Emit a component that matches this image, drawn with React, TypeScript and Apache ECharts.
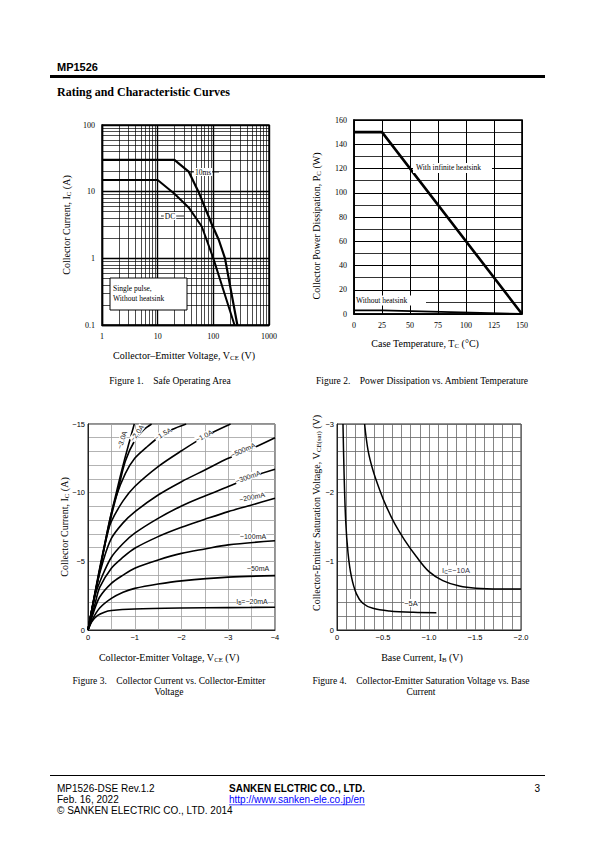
import React, { useEffect, useRef } from 'react';
import * as echarts from 'echarts';

const SERIF = "'Liberation Serif', 'Times New Roman', serif";
const SANS = "'Liberation Sans', Arial, sans-serif";

// ---------- Figure 1: Safe Operating Area (log-log) ----------
const SOA_DECADES = [1, 10, 100];
const SOA_MINOR_STEPS = [2, 3, 4, 5, 6, 7, 8, 9];
const SOA_MINOR_X = SOA_DECADES.flatMap((d) => SOA_MINOR_STEPS.map((k) => k * d));
const SOA_MINOR_Y = [0.1, 1, 10].flatMap((d) => SOA_MINOR_STEPS.map((k) => k * d));
const SOA_10MS: [number, number][] = [[1, 30], [20, 30], [36, 20], [54, 10], [93, 3.3], [125, 1.9], [162, 1], [270, 0.1]];
const SOA_DC: [number, number][] = [[1, 15], [10, 15], [20, 9.3], [36, 5.8], [62, 3.0], [100, 1], [240, 0.1]];

// ---------- Figure 2: Power dissipation vs temperature ----------
const PD_INFINITE: [number, number][] = [[0, 150], [25, 150], [150, 0]];
const PD_NO_SINK: [number, number][] = [[0, 3], [25, 3], [150, 0]];

// ---------- Figure 3: Ic vs Vce (signed values) ----------
const IB_20mA: [number, number][] = [[0, 0], [-0.08, -0.6], [-0.2, -1.05], [-0.35, -1.3], [-0.5, -1.42], [-1, -1.53], [-2, -1.6], [-3, -1.63], [-4, -1.66]];
const IB_50mA: [number, number][] = [[0, 0], [-0.1, -0.8], [-0.25, -1.6], [-0.5, -2.3], [-0.75, -2.75], [-1, -3.03], [-1.5, -3.35], [-2, -3.58], [-3, -3.85], [-4, -3.96]];
const IB_100mA: [number, number][] = [[0, 0], [-0.12, -1.3], [-0.25, -2.4], [-0.5, -3.4], [-0.75, -4.0], [-1, -4.5], [-1.5, -5.1], [-2, -5.58], [-2.5, -5.9], [-3, -6.2], [-4, -6.5]];
const IB_200mA: [number, number][] = [[0, 0], [-0.15, -1.9], [-0.25, -3.1], [-0.5, -4.5], [-0.75, -5.3], [-1, -5.95], [-1.5, -6.8], [-2, -7.48], [-2.5, -8.06], [-3, -8.62], [-3.5, -9.1], [-4, -9.6]];
const IB_300mA: [number, number][] = [[0, 0], [-0.15, -2.5], [-0.3, -3.9], [-0.5, -5.3], [-0.75, -6.3], [-1, -7.05], [-1.5, -8.13], [-2, -9.03], [-2.5, -9.76], [-3, -10.45], [-3.5, -11.15], [-4, -11.7]];
const IB_500mA: [number, number][] = [[0, 0], [-0.17, -3.0], [-0.33, -5.1], [-0.5, -6.67], [-0.75, -7.8], [-1, -8.6], [-1.5, -9.83], [-2, -10.8], [-2.5, -11.65], [-3, -12.5], [-3.5, -13.2], [-4, -14.0]];
const IB_1000mA: [number, number][] = [[0, 0], [-0.22, -3.8], [-0.4, -6.8], [-0.5, -7.9], [-0.75, -9.4], [-1, -10.45], [-1.5, -11.9], [-2, -13.05], [-2.5, -14.1], [-3.05, -15]];
const IB_1500mA: [number, number][] = [[0, 0], [-0.25, -4.3], [-0.45, -7.8], [-0.6, -9.7], [-0.8, -11.4], [-1, -12.5], [-1.25, -13.3], [-1.5, -14.0], [-1.8, -14.6], [-2.1, -15]];
const IB_2000mA: [number, number][] = [[0, 0], [-0.25, -4.4], [-0.5, -8.3], [-0.65, -10.3], [-0.8, -12.3], [-1.0, -13.8], [-1.2, -14.6], [-1.36, -15]];
const IB_3000mA: [number, number][] = [[0, 0], [-0.25, -4.5], [-0.5, -8.5], [-0.62, -10.2], [-0.72, -11.6], [-0.86, -13.4], [-0.99, -15]];
const FIG3_CURVES = [IB_20mA, IB_50mA, IB_100mA, IB_200mA, IB_300mA, IB_500mA, IB_1000mA, IB_1500mA, IB_2000mA, IB_3000mA];

// ---------- Figure 4: Vce(sat) vs Ib (signed values) ----------
const IC_10A: [number, number][] = [[-0.3, -3.0], [-0.337, -2.62], [-0.39, -2.33], [-0.464, -2.04], [-0.536, -1.8], [-0.627, -1.55], [-0.735, -1.31], [-0.862, -1.07], [-1.0, -0.85], [-1.15, -0.72], [-1.33, -0.64], [-1.51, -0.607], [-1.77, -0.597], [-2.0, -0.597]];
const IC_5A: [number, number][] = [[-0.065, -3.0], [-0.076, -2.33], [-0.094, -1.6], [-0.12, -1.12], [-0.156, -0.78], [-0.21, -0.53], [-0.28, -0.39], [-0.39, -0.316], [-0.57, -0.277], [-0.83, -0.257], [-1.08, -0.252]];

const minus = (v: number, digits = 0) => (Math.abs(v) < 1e-9 ? '0' : '\u2212' + Math.abs(v).toFixed(digits));

function txt(text: string, x: number, y: number, o: any = {}) {
  const align = o.align || 'left';
  const va = o.va || 'middle';
  return {
    type: 'text', x, y, rotation: o.rot || 0, z: 100, silent: true,
    style: {
      text, fill: o.color || '#000', fontSize: o.size || 9.5, fontFamily: o.family || SERIF,
      fontWeight: o.weight || 'normal', align, verticalAlign: va, textAlign: align, textVerticalAlign: va,
      backgroundColor: o.bg, padding: o.pad, rich: o.rich,
    },
  };
}
function subRich(size: number, family: string, color = '#000') {
  return {
    n: { fontSize: size, fontFamily: family, lineHeight: size + 2, fill: color, color },
    s: { fontSize: size * 0.68, fontFamily: family, lineHeight: size * 0.68, verticalAlign: 'bottom', fill: color, color },
  };
}
function subText(a: string, s: string, b: string) {
  return `{n|${a}}{s|${s}}{n|${b}}`;
}

export default function App() {
  const ref = useRef<HTMLDivElement>(null);
  useEffect(() => {
    const chart = echarts.init(ref.current!, null, { renderer: 'svg', width: 595, height: 842 });

    const tickLabel = (family: string, size: number, margin: number, formatter: any) => ({
      show: true, color: '#000', fontFamily: family, fontSize: size, margin, formatter, interval: 0, hideOverlap: false,
    });

    const option: any = {
      animation: false,
      backgroundColor: '#fff',
      grid: [
        { left: 102, top: 125, width: 167, height: 200, show: true, borderColor: '#000', borderWidth: 1.4 },
        { left: 354, top: 120, width: 168, height: 194, show: true, borderColor: '#000', borderWidth: 1.6 },
        { left: 88, top: 424, width: 187, height: 206, show: true, borderColor: '#222', borderWidth: 1 },
        { left: 337, top: 424, width: 184, height: 206, show: true, borderColor: '#222', borderWidth: 1 },
      ],
      xAxis: [
        {
          gridIndex: 0, type: 'log', logBase: 10, min: 1, max: 1000,
          axisLine: { show: true, onZero: false, lineStyle: { color: '#000', width: 1.4 } }, axisTick: { show: false },
          splitLine: { show: true, lineStyle: { color: '#000', width: 1.4 } },
          axisLabel: tickLabel(SERIF, 8, 7, (v: number) => String(Math.round(v))),
        },
        {
          gridIndex: 1, type: 'value', min: 0, max: 150, interval: 25,
          axisLine: { show: true, onZero: false, lineStyle: { color: '#000', width: 1.6 } }, axisTick: { show: false },
          splitLine: { show: true, lineStyle: { color: '#000', width: 1 } },
          axisLabel: tickLabel(SERIF, 8, 7, (v: number) => String(v)),
        },
        {
          gridIndex: 2, type: 'value', min: -4, max: 0, interval: 0.5, inverse: true,
          axisLine: { show: true, onZero: false, lineStyle: { color: '#222', width: 1 } }, axisTick: { show: false },
          splitLine: { show: true, lineStyle: { color: '#a0a0a0', width: 0.8 } },
          axisLabel: tickLabel(SANS, 7.5, 3, (v: number) => (Math.abs(v - Math.round(v)) < 1e-6 ? minus(v) : '')),
        },
        {
          gridIndex: 3, type: 'value', min: -2, max: 0, interval: 0.1, inverse: true,
          axisLine: { show: true, onZero: false, lineStyle: { color: '#222', width: 1 } }, axisTick: { show: false },
          splitLine: { show: true, lineStyle: { color: '#666', width: 0.8 } },
          axisLabel: tickLabel(SANS, 7.5, 3, (v: number) => {
            const k = Math.round(v * 10);
            if (k % 5 !== 0) return '';
            return k === 0 ? '0' : minus(k / 10, 1);
          }),
        },
      ],
      yAxis: [
        {
          gridIndex: 0, type: 'log', logBase: 10, min: 0.1, max: 100,
          axisLine: { show: true, onZero: false, lineStyle: { color: '#000', width: 1.4 } }, axisTick: { show: false },
          splitLine: { show: true, lineStyle: { color: '#000', width: 1.4 } },
          axisLabel: tickLabel(SERIF, 8, 7, (v: number) => (v < 0.5 ? '0.1' : String(Math.round(v)))),
        },
        {
          gridIndex: 1, type: 'value', min: 0, max: 160, interval: 20,
          axisLine: { show: true, onZero: false, lineStyle: { color: '#000', width: 1.6 } }, axisTick: { show: false },
          minorTick: { show: false, splitNumber: 2 },
          minorSplitLine: { show: true, lineStyle: { color: '#000', width: 0.8 } },
          splitLine: { show: true, lineStyle: { color: '#000', width: 1 } },
          axisLabel: tickLabel(SERIF, 8, 7, (v: number) => String(v)),
        },
        {
          gridIndex: 2, type: 'value', min: -15, max: 0, interval: 1, inverse: true,
          axisLine: { show: true, onZero: false, lineStyle: { color: '#222', width: 1 } }, axisTick: { show: false },
          splitLine: { show: true, lineStyle: { color: '#a0a0a0', width: 0.8 } },
          axisLabel: tickLabel(SANS, 7.5, 3, (v: number) => (Math.round(v) % 5 === 0 ? minus(v) : '')),
        },
        {
          gridIndex: 3, type: 'value', min: -3, max: 0, interval: 0.2, inverse: true,
          axisLine: { show: true, onZero: false, lineStyle: { color: '#222', width: 1 } }, axisTick: { show: false },
          splitLine: { show: true, lineStyle: { color: '#666', width: 0.8 } },
          axisLabel: tickLabel(SANS, 7.5, 3, (v: number) => {
            const k = Math.round(v * 10);
            return k % 10 === 0 ? minus(k / 10) : '';
          }),
        },
      ],
      series: [
        {
          type: 'line', xAxisIndex: 0, yAxisIndex: 0, data: [[1, 100]], showSymbol: false, z: 1, silent: true,
          lineStyle: { width: 0 },
          markLine: {
            silent: true, symbol: ['none', 'none'], label: { show: false }, animation: false,
            lineStyle: { color: '#000', width: 0.7, type: 'solid' },
            data: [...SOA_MINOR_X.map((v) => ({ xAxis: v })), ...SOA_MINOR_Y.map((v) => ({ yAxis: v }))],
          },
        },
        { type: 'line', xAxisIndex: 0, yAxisIndex: 0, data: SOA_10MS, showSymbol: false, z: 5, lineStyle: { color: '#000', width: 2.2 } },
        { type: 'line', xAxisIndex: 0, yAxisIndex: 0, data: SOA_DC, showSymbol: false, z: 5, lineStyle: { color: '#000', width: 2 } },
        { type: 'line', xAxisIndex: 1, yAxisIndex: 1, data: PD_INFINITE, showSymbol: false, z: 5, lineStyle: { color: '#000', width: 2.6 } },
        { type: 'line', xAxisIndex: 1, yAxisIndex: 1, data: PD_NO_SINK, showSymbol: false, z: 5, lineStyle: { color: '#000', width: 1.8 } },
        ...FIG3_CURVES.map((d) => ({
          type: 'line', xAxisIndex: 2, yAxisIndex: 2, data: d, showSymbol: false, z: 5,
          smooth: 0.3, lineStyle: { color: '#000', width: 1.6 },
        })),
        ...[IC_10A, IC_5A].map((d) => ({
          type: 'line', xAxisIndex: 3, yAxisIndex: 3, data: d, showSymbol: false, z: 5,
          smooth: 0.35, lineStyle: { color: '#000', width: 1.5 },
        })),
      ],
      graphic: [
        // header
        txt('MP1526', 57, 67, { family: SANS, weight: 'bold', size: 11 }),
        { type: 'rect', z: 100, shape: { x: 50, y: 75, width: 495, height: 3 }, style: { fill: '#000' } },
        txt('Rating and Characteristic Curves', 57, 92, { weight: 'bold', size: 12 }),

        // Figure 1 annotations
        { type: 'line', z: 100, shape: { x1: 188, y1: 172, x2: 219, y2: 172 }, style: { stroke: '#000', lineWidth: 0.8 } },
        txt('10ms', 203, 172, { size: 7.5, align: 'center', bg: '#fff', pad: [0, 1] }),
        { type: 'line', z: 100, shape: { x1: 161, y1: 216, x2: 184, y2: 216 }, style: { stroke: '#000', lineWidth: 0.8 } },
        txt('DC', 170, 216, { size: 7.5, align: 'center', bg: '#fff', pad: [0, 1] }),
        { type: 'rect', z: 100, shape: { x: 110, y: 278, width: 77, height: 32 }, style: { fill: '#fff', stroke: '#000', lineWidth: 1 } },
        txt('Single pulse,', 113, 288, { size: 7.5 }),
        txt('Without heatsink', 113, 298, { size: 7.5 }),
        txt(subText('Collector Current, I', 'C', ' (A)'), 66, 225, { rot: Math.PI / 2, align: 'center', rich: subRich(10, SERIF) }),
        txt(subText('Collector\u2013Emitter Voltage, V', 'CE', ' (V)'), 184, 355, { align: 'center', rich: subRich(10, SERIF) }),
        txt('Figure 1.\u00a0\u00a0\u00a0\u00a0Safe Operating Area', 170, 381, { align: 'center', size: 9.5 }),

        // Figure 2 annotations
        { type: 'rect', z: 100, shape: { x: 413, y: 163, width: 79, height: 10 }, style: { fill: '#fff' } },
        txt('With infinite heatsink', 416, 167.5, { size: 7.5 }),
        { type: 'rect', z: 100, shape: { x: 355, y: 295.5, width: 71, height: 10 }, style: { fill: '#fff' } },
        txt('Without heatsink', 356, 300.5, { size: 7.5 }),
        txt(subText('Collector Power Dissipation, P', 'C', ' (W)'), 316, 226, { rot: Math.PI / 2, align: 'center', rich: subRich(10, SERIF) }),
        txt(subText('Case Temperature, T', 'C', ' (\u00b0C)'), 425, 343, { align: 'center', rich: subRich(10, SERIF) }),
        txt('Figure 2.\u00a0\u00a0\u00a0\u00a0Power Dissipation vs. Ambient Temperature', 422, 381, { align: 'center', size: 9.5 }),

        // Figure 3 annotations
        txt('\u22123.0A', 122, 440, { family: SANS, size: 7, align: 'center', rot: (72 * Math.PI) / 180, bg: '#fff', color: '#222' }),
        txt('\u22122.0A', 137, 433, { family: SANS, size: 7, align: 'center', rot: (55 * Math.PI) / 180, bg: '#fff', color: '#222' }),
        txt('\u22121.5A', 163, 434, { family: SANS, size: 7, align: 'center', rot: (30 * Math.PI) / 180, bg: '#fff', color: '#222' }),
        txt('\u22121.0A', 204, 436, { family: SANS, size: 7, align: 'center', rot: (28 * Math.PI) / 180, bg: '#fff', color: '#222' }),
        txt('\u2212500mA', 243, 450, { family: SANS, size: 7, align: 'center', rot: (24 * Math.PI) / 180, bg: '#fff', color: '#222' }),
        txt('\u2212300mA', 248, 477, { family: SANS, size: 7, align: 'center', rot: (19 * Math.PI) / 180, bg: '#fff', color: '#222' }),
        txt('\u2212200mA', 252, 497, { family: SANS, size: 7, align: 'center', rot: (12 * Math.PI) / 180, bg: '#fff', color: '#222' }),
        txt('\u2212100mA', 253, 536, { family: SANS, size: 7, align: 'center', bg: '#fff', color: '#222' }),
        txt('\u221250mA', 258, 568, { family: SANS, size: 7, align: 'center', bg: '#fff', color: '#222' }),
        txt(subText('I', 'B', '=\u221220mA'), 252, 601, { align: 'center', bg: '#fff', rich: subRich(7, SANS, '#222') }),
        txt(subText('Collector Current, I', 'C', ' (A)'), 64, 527, { rot: Math.PI / 2, align: 'center', rich: subRich(10, SERIF) }),
        txt(subText('Collector-Emitter Voltage, V', 'CE', ' (V)'), 169, 657, { align: 'center', rich: subRich(10, SERIF) }),
        txt('Figure 3.\u00a0\u00a0\u00a0\u00a0Collector Current vs. Collector-Emitter', 169, 681, { align: 'center', size: 9.5 }),
        txt('Voltage', 169, 692, { align: 'center', size: 9.5 }),

        // Figure 4 annotations
        txt(subText('I', 'C', '=\u221210A'), 456, 570, { align: 'center', bg: '#fff', rich: subRich(7.5, SANS, '#334') }),
        txt('\u22125A', 411, 603, { family: SANS, size: 7.5, align: 'center', bg: '#fff', color: '#222' }),
        txt(subText('Collector-Emitter Saturation Voltage, V', 'CE(sat)', ' (V)'), 316, 513, { rot: Math.PI / 2, align: 'center', rich: subRich(10, SERIF) }),
        txt(subText('Base Current, I', 'B', ' (V)'), 422, 657, { align: 'center', rich: subRich(10, SERIF) }),
        txt('Figure 4.\u00a0\u00a0\u00a0\u00a0Collector-Emitter Saturation Voltage vs. Base', 421, 681, { align: 'center', size: 9.5 }),
        txt('Current', 421, 692, { align: 'center', size: 9.5 }),

        // footer
        { type: 'rect', z: 100, shape: { x: 50, y: 775, width: 495, height: 1 }, style: { fill: '#000' } },
        txt('MP1526-DSE Rev.1.2', 57, 788, { family: SANS, size: 10 }),
        txt('Feb. 16, 2022', 57, 799, { family: SANS, size: 10 }),
        txt('\u00a9 SANKEN ELECTRIC CO., LTD. 2014', 57, 810, { family: SANS, size: 10 }),
        txt('SANKEN ELCTRIC CO., LTD.', 229, 788, { family: SANS, size: 10, weight: 'bold' }),
        txt('http://www.sanken-ele.co.jp/en', 229, 799, { family: SANS, size: 10, color: '#0000ff' }),
        { type: 'rect', z: 100, shape: { x: 229, y: 804.5, width: 136, height: 0.8 }, style: { fill: '#0000ff' } },
        txt('3', 540, 788, { family: SANS, size: 10, align: 'right' }),
      ],
    };

    chart.setOption(option);
    return () => chart.dispose();
  }, []);
  return <div ref={ref} style={{ position: 'absolute', left: 0, top: 0, width: 595, height: 842, background: '#fff' }} />;
}
